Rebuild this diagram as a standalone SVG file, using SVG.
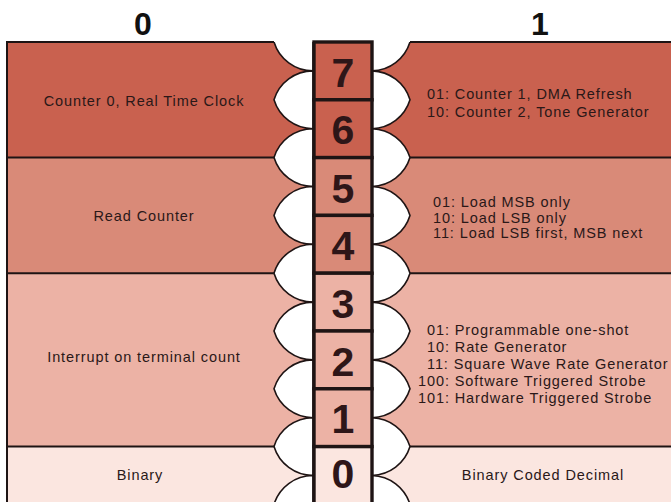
<svg xmlns="http://www.w3.org/2000/svg" width="671" height="502" viewBox="0 0 671 502">
<style>
.bandA{fill:#c9614f}
.bandB{fill:#d98a78}
.bandC{fill:#ecb2a5}
.bandD{fill:#fbe6e0}
.edge{stroke:#1e1414;stroke-width:2;fill:none}
.lens{fill:#ffffff;stroke:#1e1414;stroke-width:1.6}
.cell{stroke:#1e1414;stroke-width:3.4}
.digit{font-family:"Liberation Sans",Arial,sans-serif;font-weight:bold;font-size:41px;fill:#2e1618;text-anchor:middle}
.head{font-family:"Liberation Sans",Arial,sans-serif;font-weight:bold;font-size:32px;fill:#111;text-anchor:middle}
.lbl{font-family:"Liberation Sans",Arial,sans-serif;font-size:14.5px;letter-spacing:0.9px;fill:#2a1818}
.mid{text-anchor:middle}
</style>
<defs>
<path id="lensL" d="M0,-28.9 A40.8,40.8 0 0 0 -39,0 A40.8,40.8 0 0 0 0,28.9 Z"/>
<path id="lensR" d="M0,-28.9 A40.8,40.8 0 0 1 38,0 A40.8,40.8 0 0 1 0,28.9 Z"/>
<clipPath id="clipBody"><rect x="0" y="42" width="671" height="460"/></clipPath>
</defs>
<rect width="671" height="502" fill="#ffffff"/>

<text class="head" x="143" y="35">0</text>
<text class="head" x="540" y="35">1</text>

<g id="band-76">
<rect class="bandA" x="7" y="42" width="664" height="115.6"/>
<text class="lbl mid" x="144" y="106">Counter 0, Real Time Clock</text>
<text class="lbl" x="427" y="99">01: Counter 1, DMA Refresh</text>
<text class="lbl" x="427" y="117">10: Counter 2, Tone Generator</text>
</g>
<g id="band-54">
<rect class="bandB" x="7" y="157.6" width="664" height="115.6"/>
<text class="lbl mid" x="144" y="221">Read Counter</text>
<text class="lbl" x="433" y="207">01: Load MSB only</text>
<text class="lbl" x="433" y="222.5">10: Load LSB only</text>
<text class="lbl" x="433" y="238">11: Load LSB first, MSB next</text>
</g>
<g id="band-321">
<rect class="bandC" x="7" y="273.2" width="664" height="173.4"/>
<text class="lbl mid" x="144" y="362">Interrupt on terminal count</text>
<text class="lbl" x="427" y="335">01: Programmable one-shot</text>
<text class="lbl" x="427" y="352">10: Rate Generator</text>
<text class="lbl" x="427" y="369">11: Square Wave Rate Generator</text>
<text class="lbl" x="418" y="386">100: Software Triggered Strobe</text>
<text class="lbl" x="418" y="403">101: Hardware Triggered Strobe</text>
</g>
<g id="band-0">
<rect class="bandD" x="7" y="446.6" width="664" height="55.4"/>
<text class="lbl mid" x="140" y="480">Binary</text>
<text class="lbl mid" x="543" y="480">Binary Coded Decimal</text>
</g>

<g id="connectors">
<path class="edge" d="M7,503 V42 H274 M410,42 H672 M7,157.6 H274 M410,157.6 H672 M7,273.2 H274 M410,273.2 H672 M7,446.6 H274 M410,446.6 H672"/>
<g clip-path="url(#clipBody)">
<use href="#lensL" class="lens" x="313" y="42"/>
<use href="#lensL" class="lens" x="313" y="99.8"/>
<use href="#lensL" class="lens" x="313" y="157.6"/>
<use href="#lensL" class="lens" x="313" y="215.4"/>
<use href="#lensL" class="lens" x="313" y="273.2"/>
<use href="#lensL" class="lens" x="313" y="331"/>
<use href="#lensL" class="lens" x="313" y="388.8"/>
<use href="#lensL" class="lens" x="313" y="446.6"/>
<use href="#lensL" class="lens" x="313" y="504.4"/>
<use href="#lensR" class="lens" x="372" y="42"/>
<use href="#lensR" class="lens" x="372" y="99.8"/>
<use href="#lensR" class="lens" x="372" y="157.6"/>
<use href="#lensR" class="lens" x="372" y="215.4"/>
<use href="#lensR" class="lens" x="372" y="273.2"/>
<use href="#lensR" class="lens" x="372" y="331"/>
<use href="#lensR" class="lens" x="372" y="388.8"/>
<use href="#lensR" class="lens" x="372" y="446.6"/>
<use href="#lensR" class="lens" x="372" y="504.4"/>
</g>
</g>

<g id="cell-7"><rect class="cell bandA" x="314" y="42" width="58" height="57.8"/><text class="digit" x="343" y="87">7</text></g>
<g id="cell-6"><rect class="cell bandA" x="314" y="99.8" width="58" height="57.8"/><text class="digit" x="343" y="143.5">6</text></g>
<g id="cell-5"><rect class="cell bandB" x="314" y="157.6" width="58" height="57.8"/><text class="digit" x="343" y="202.5">5</text></g>
<g id="cell-4"><rect class="cell bandB" x="314" y="215.4" width="58" height="57.8"/><text class="digit" x="343" y="260">4</text></g>
<g id="cell-3"><rect class="cell bandC" x="314" y="273.2" width="58" height="57.8"/><text class="digit" x="343" y="318">3</text></g>
<g id="cell-2"><rect class="cell bandC" x="314" y="331" width="58" height="57.8"/><text class="digit" x="343" y="375.5">2</text></g>
<g id="cell-1"><rect class="cell bandC" x="314" y="388.8" width="58" height="57.8"/><text class="digit" x="343" y="433">1</text></g>
<g id="cell-0"><rect class="cell bandD" x="314" y="446.6" width="58" height="57.8"/><text class="digit" x="343" y="488">0</text></g>
</svg>
